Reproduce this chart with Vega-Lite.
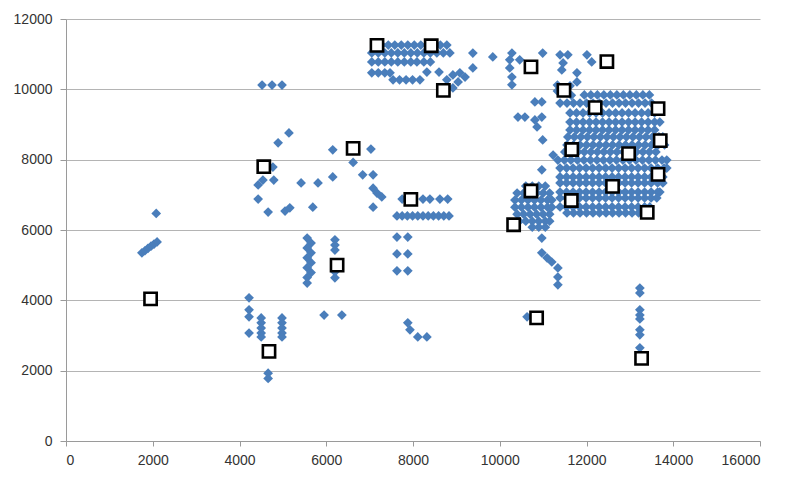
{
"$schema":"https://vega.github.io/schema/vega-lite/v6.json",
"width":694,"height":422,
"autosize":"none",
"padding":{"left":66,"top":19,"right":26,"bottom":37},
"background":"white",
"config":{"view":{"stroke":null},
"axis":{"labelFont":"Liberation Sans","labelFontSize":14,"labelColor":"#333333","domainColor":"#9a9a9a","tickColor":"#9a9a9a","gridColor":"#b4b4b4","tickSize":5,"title":null}},
"datasets":{
"d":[
{"x":1750,"y":5350},{"x":1820,"y":5410},{"x":1890,"y":5480},{"x":1960,"y":5540},{"x":2030,"y":5600},{"x":2100,"y":5660},{"x":2080,"y":6470},
{"x":4220,"y":4070},{"x":4220,"y":3730},{"x":4220,"y":3530},{"x":4220,"y":3070},
{"x":4500,"y":3500},{"x":4500,"y":3360},{"x":4500,"y":3210},{"x":4500,"y":3070},{"x":4500,"y":2960},
{"x":4980,"y":3500},{"x":4980,"y":3360},{"x":4980,"y":3210},{"x":4980,"y":3070},{"x":4980,"y":2960},
{"x":4660,"y":1930},{"x":4660,"y":1780},
{"x":5560,"y":5770},{"x":5650,"y":5630},{"x":5560,"y":5490},{"x":5650,"y":5350},{"x":5560,"y":5210},{"x":5650,"y":5070},{"x":5560,"y":4930},{"x":5650,"y":4790},{"x":5560,"y":4650},{"x":5560,"y":4490},
{"x":6200,"y":5720},{"x":6200,"y":5570},{"x":6200,"y":5430},{"x":6200,"y":4950},{"x":6200,"y":4810},{"x":6200,"y":4640},
{"x":5950,"y":3580},{"x":6360,"y":3580},
{"x":4520,"y":10120},{"x":4750,"y":10120},{"x":4980,"y":10120},
{"x":5140,"y":8760},{"x":4890,"y":8480},{"x":4770,"y":7790},{"x":4540,"y":7420},{"x":4430,"y":7280},{"x":4790,"y":7420},{"x":4430,"y":6880},{"x":4660,"y":6510},{"x":5050,"y":6540},{"x":5160,"y":6630},{"x":5690,"y":6650},{"x":5420,"y":7340},{"x":5810,"y":7340},{"x":6150,"y":7510},{"x":6150,"y":8280},{"x":7030,"y":8300},{"x":6620,"y":7920},{"x":6840,"y":7570},{"x":7080,"y":7570},{"x":7080,"y":7190},{"x":7170,"y":7050},{"x":7280,"y":6940},{"x":7080,"y":6650},
{"x":7750,"y":6880},{"x":8230,"y":6880},{"x":8390,"y":6880},{"x":8620,"y":6880},{"x":8800,"y":6880},
{"x":7630,"y":6400},{"x":7750,"y":6400},{"x":7870,"y":6400},{"x":7990,"y":6400},{"x":8110,"y":6400},{"x":8230,"y":6400},{"x":8350,"y":6400},{"x":8470,"y":6400},{"x":8590,"y":6400},{"x":8710,"y":6400},{"x":8830,"y":6400},
{"x":7630,"y":5800},{"x":7880,"y":5800},{"x":7630,"y":5320},{"x":7880,"y":5320},{"x":7630,"y":4840},{"x":7880,"y":4840},
{"x":7880,"y":3360},{"x":7930,"y":3160},{"x":8110,"y":2960},{"x":8320,"y":2960},
{"x":7280,"y":11260},{"x":7430,"y":11260},{"x":7580,"y":11260},{"x":7730,"y":11260},{"x":7880,"y":11260},{"x":8030,"y":11260},{"x":8180,"y":11260},{"x":8330,"y":11260},{"x":8480,"y":11260},{"x":8630,"y":11260},{"x":8780,"y":11260},
{"x":7050,"y":11035},{"x":7200,"y":11035},{"x":7350,"y":11035},{"x":7500,"y":11035},{"x":7650,"y":11035},{"x":7800,"y":11035},{"x":7950,"y":11035},{"x":8100,"y":11035},{"x":8250,"y":11035},{"x":8400,"y":11035},{"x":8550,"y":11035},{"x":8700,"y":11035},{"x":8850,"y":11035},
{"x":7050,"y":10780},{"x":7200,"y":10780},{"x":7350,"y":10780},{"x":7500,"y":10780},{"x":7650,"y":10780},{"x":7800,"y":10780},{"x":7950,"y":10780},{"x":8090,"y":10780},{"x":8250,"y":10780},{"x":8400,"y":10780},
{"x":7050,"y":10470},{"x":7200,"y":10470},{"x":7350,"y":10470},{"x":7470,"y":10470},
{"x":7540,"y":10270},{"x":7690,"y":10270},{"x":7840,"y":10270},{"x":7990,"y":10270},{"x":8160,"y":10270},
{"x":8320,"y":10490},{"x":8600,"y":10490},{"x":8780,"y":10270},{"x":8920,"y":10410},{"x":9080,"y":10470},{"x":9200,"y":10350},{"x":9040,"y":10210},{"x":8920,"y":10040},{"x":9380,"y":11030},{"x":9380,"y":10610},{"x":9840,"y":10920},
{"x":10280,"y":11030},{"x":10230,"y":10840},{"x":10460,"y":10840},{"x":10230,"y":10610},{"x":10280,"y":10350},{"x":10280,"y":10130},{"x":10990,"y":11030},
{"x":11390,"y":10980},{"x":11570,"y":10980},{"x":11460,"y":10750},{"x":11430,"y":10550},{"x":11780,"y":10470},{"x":11780,"y":10210},{"x":12010,"y":10980},{"x":12120,"y":10780},
{"x":11330,"y":9950},{"x":11620,"y":10100},{"x":11650,"y":9830},{"x":11390,"y":9610},{"x":11550,"y":9610},{"x":11330,"y":10120},
{"x":10810,"y":9640},{"x":10970,"y":9640},{"x":10420,"y":9210},{"x":10580,"y":9210},{"x":10810,"y":9130},{"x":10970,"y":9210},{"x":10860,"y":8930},{"x":10990,"y":8560},{"x":11230,"y":8130},{"x":10970,"y":7710},
{"x":10600,"y":7250},{"x":10750,"y":7250},{"x":10900,"y":7250},{"x":11050,"y":7250},
{"x":10400,"y":7050},{"x":10550,"y":7050},{"x":10700,"y":7050},{"x":10850,"y":7050},{"x":11000,"y":7050},{"x":11150,"y":7050},
{"x":10350,"y":6850},{"x":10500,"y":6850},{"x":10650,"y":6850},{"x":10800,"y":6850},{"x":10950,"y":6850},{"x":11100,"y":6850},{"x":11200,"y":6850},
{"x":10350,"y":6650},{"x":10500,"y":6650},{"x":10650,"y":6650},{"x":10800,"y":6650},{"x":10950,"y":6650},{"x":11100,"y":6650},{"x":11200,"y":6650},
{"x":10400,"y":6450},{"x":10550,"y":6450},{"x":10700,"y":6450},{"x":10850,"y":6450},{"x":11000,"y":6450},{"x":11150,"y":6450},
{"x":10450,"y":6250},{"x":10600,"y":6250},{"x":10750,"y":6250},{"x":10900,"y":6250},{"x":11050,"y":6250},{"x":11150,"y":6250},
{"x":10750,"y":6080},{"x":10900,"y":6080},{"x":11050,"y":6080},
{"x":10970,"y":5770},{"x":10970,"y":5350},{"x":11090,"y":5210},{"x":11200,"y":5090},{"x":11340,"y":4920},{"x":11340,"y":4660},{"x":11340,"y":4440},{"x":10630,"y":3530},
{"x":13230,"y":4350},{"x":13230,"y":4210},{"x":13230,"y":3730},{"x":13230,"y":3580},{"x":13230,"y":3470},{"x":13230,"y":3160},{"x":13230,"y":3020},{"x":13230,"y":2650},
{"x":11950,"y":9840},{"x":12100,"y":9840},{"x":12250,"y":9840},{"x":12400,"y":9840},{"x":12550,"y":9840},{"x":12700,"y":9840},{"x":12850,"y":9840},{"x":13000,"y":9840},{"x":13150,"y":9840},{"x":13300,"y":9840},{"x":13450,"y":9840},
{"x":11700,"y":9610},{"x":11850,"y":9610},{"x":12000,"y":9610},{"x":12150,"y":9610},{"x":12300,"y":9610},{"x":12450,"y":9610},{"x":12600,"y":9610},{"x":12750,"y":9610},{"x":12900,"y":9610},{"x":13050,"y":9610},{"x":13200,"y":9610},{"x":13350,"y":9610},{"x":13500,"y":9610},
{"x":11620,"y":9330},{"x":11770,"y":9330},{"x":11920,"y":9330},{"x":12070,"y":9330},{"x":12220,"y":9330},{"x":12370,"y":9330},{"x":12520,"y":9330},{"x":12670,"y":9330},{"x":12820,"y":9330},{"x":12970,"y":9330},{"x":13120,"y":9330},{"x":13270,"y":9330},{"x":13420,"y":9330},{"x":13570,"y":9330},
{"x":11620,"y":9070},{"x":11770,"y":9070},{"x":11920,"y":9070},{"x":12070,"y":9070},{"x":12220,"y":9070},{"x":12370,"y":9070},{"x":12520,"y":9070},{"x":12670,"y":9070},{"x":12820,"y":9070},{"x":12970,"y":9070},{"x":13120,"y":9070},{"x":13270,"y":9070},{"x":13420,"y":9070},{"x":13570,"y":9070},{"x":13690,"y":9070},
{"x":11620,"y":8845},{"x":11770,"y":8845},{"x":11920,"y":8845},{"x":12070,"y":8845},{"x":12220,"y":8845},{"x":12370,"y":8845},{"x":12520,"y":8845},{"x":12670,"y":8845},{"x":12820,"y":8845},{"x":12970,"y":8845},{"x":13120,"y":8845},{"x":13270,"y":8845},{"x":13420,"y":8845},{"x":13570,"y":8845},
{"x":11570,"y":8645},{"x":11720,"y":8645},{"x":11870,"y":8645},{"x":12020,"y":8645},{"x":12170,"y":8645},{"x":12320,"y":8645},{"x":12470,"y":8645},{"x":12620,"y":8645},{"x":12770,"y":8645},{"x":12920,"y":8645},{"x":13070,"y":8645},{"x":13220,"y":8645},{"x":13370,"y":8645},{"x":13520,"y":8645},{"x":13670,"y":8645},{"x":13760,"y":8645},
{"x":11550,"y":8420},{"x":11700,"y":8420},{"x":11850,"y":8420},{"x":12000,"y":8420},{"x":12150,"y":8420},{"x":12300,"y":8420},{"x":12450,"y":8420},{"x":12600,"y":8420},{"x":12750,"y":8420},{"x":12900,"y":8420},{"x":13050,"y":8420},{"x":13200,"y":8420},{"x":13350,"y":8420},{"x":13500,"y":8420},{"x":13650,"y":8420},{"x":13800,"y":8420},
{"x":11500,"y":8220},{"x":11650,"y":8220},{"x":11800,"y":8220},{"x":11950,"y":8220},{"x":12100,"y":8220},{"x":12250,"y":8220},{"x":12400,"y":8220},{"x":12550,"y":8220},{"x":12700,"y":8220},{"x":12850,"y":8220},{"x":13000,"y":8220},{"x":13150,"y":8220},{"x":13300,"y":8220},{"x":13450,"y":8220},{"x":13600,"y":8220},
{"x":11340,"y":7990},{"x":11490,"y":7990},{"x":11640,"y":7990},{"x":11790,"y":7990},{"x":11940,"y":7990},{"x":12090,"y":7990},{"x":12240,"y":7990},{"x":12390,"y":7990},{"x":12540,"y":7990},{"x":12690,"y":7990},{"x":12840,"y":7990},{"x":12990,"y":7990},{"x":13140,"y":7990},{"x":13290,"y":7990},{"x":13440,"y":7990},{"x":13590,"y":7990},{"x":13740,"y":7990},{"x":13850,"y":7990},
{"x":11390,"y":7760},{"x":11540,"y":7760},{"x":11690,"y":7760},{"x":11840,"y":7760},{"x":11990,"y":7760},{"x":12140,"y":7760},{"x":12290,"y":7760},{"x":12440,"y":7760},{"x":12590,"y":7760},{"x":12740,"y":7760},{"x":12890,"y":7760},{"x":13040,"y":7760},{"x":13190,"y":7760},{"x":13340,"y":7760},{"x":13490,"y":7760},{"x":13640,"y":7760},{"x":13790,"y":7760},{"x":13850,"y":7760},
{"x":11390,"y":7510},{"x":11540,"y":7510},{"x":11690,"y":7510},{"x":11840,"y":7510},{"x":11990,"y":7510},{"x":12140,"y":7510},{"x":12290,"y":7510},{"x":12440,"y":7510},{"x":12590,"y":7510},{"x":12740,"y":7510},{"x":12890,"y":7510},{"x":13040,"y":7510},{"x":13190,"y":7510},{"x":13340,"y":7510},{"x":13490,"y":7510},{"x":13640,"y":7510},{"x":13760,"y":7510},
{"x":11390,"y":7340},{"x":11540,"y":7340},{"x":11690,"y":7340},{"x":11840,"y":7340},{"x":11990,"y":7340},{"x":12140,"y":7340},{"x":12290,"y":7340},{"x":12440,"y":7340},{"x":12590,"y":7340},{"x":12740,"y":7340},{"x":12890,"y":7340},{"x":13040,"y":7340},{"x":13190,"y":7340},{"x":13340,"y":7340},{"x":13490,"y":7340},{"x":13640,"y":7340},{"x":13760,"y":7340},
{"x":11390,"y":7080},{"x":11540,"y":7080},{"x":11690,"y":7080},{"x":11840,"y":7080},{"x":11990,"y":7080},{"x":12140,"y":7080},{"x":12290,"y":7080},{"x":12440,"y":7080},{"x":12590,"y":7080},{"x":12740,"y":7080},{"x":12890,"y":7080},{"x":13040,"y":7080},{"x":13190,"y":7080},{"x":13340,"y":7080},{"x":13490,"y":7080},{"x":13640,"y":7080},{"x":13690,"y":7080},
{"x":11390,"y":6910},{"x":11540,"y":6910},{"x":11690,"y":6910},{"x":11840,"y":6910},{"x":11990,"y":6910},{"x":12140,"y":6910},{"x":12290,"y":6910},{"x":12440,"y":6910},{"x":12590,"y":6910},{"x":12740,"y":6910},{"x":12890,"y":6910},{"x":13040,"y":6910},{"x":13190,"y":6910},{"x":13340,"y":6910},{"x":13490,"y":6910},{"x":13620,"y":6910},
{"x":11390,"y":6655},{"x":11540,"y":6655},{"x":11690,"y":6655},{"x":11840,"y":6655},{"x":11990,"y":6655},{"x":12140,"y":6655},{"x":12290,"y":6655},{"x":12440,"y":6655},{"x":12590,"y":6655},{"x":12740,"y":6655},{"x":12890,"y":6655},{"x":13040,"y":6655},{"x":13190,"y":6655},{"x":13340,"y":6655},{"x":13460,"y":6655},
{"x":11550,"y":6485},{"x":11700,"y":6485},{"x":11850,"y":6485},{"x":12000,"y":6485},{"x":12150,"y":6485},{"x":12300,"y":6485},{"x":12450,"y":6485},{"x":12600,"y":6485},{"x":12750,"y":6485},{"x":12900,"y":6485},{"x":13050,"y":6485},{"x":13200,"y":6485},{"x":13390,"y":6485}
],
"s":[
{"x":1950,"y":4040},{"x":4560,"y":7800},{"x":4680,"y":2550},{"x":6250,"y":5000},{"x":6620,"y":8320},{"x":7950,"y":6870},{"x":7170,"y":11250},{"x":8420,"y":11240},{"x":8700,"y":9970},{"x":10720,"y":10640},{"x":10320,"y":6150},{"x":10720,"y":7110},{"x":10850,"y":3500},{"x":11480,"y":9970},{"x":12470,"y":10790},{"x":12200,"y":9480},{"x":11660,"y":8290},{"x":12970,"y":8170},{"x":13650,"y":9450},{"x":13700,"y":8540},{"x":13650,"y":7580},{"x":12600,"y":7240},{"x":11650,"y":6840},{"x":13400,"y":6500},{"x":13270,"y":2350}
]},
"layer":[
{"data":{"name":"d"},
"mark":{"type":"point","shape":"diamond","filled":true,"color":"#4A7EBB","opacity":1,"size":95},
"encoding":{
"x":{"field":"x","type":"quantitative","scale":{"domain":[0,16000],"nice":false},"axis":{"values":[0,2000,4000,6000,8000,10000,12000,14000,16000],"grid":false,"labelPadding":7,"format":"d"}},
"y":{"field":"y","type":"quantitative","scale":{"domain":[0,12000],"nice":false},"axis":{"values":[0,2000,4000,6000,8000,10000,12000],"grid":true,"labelPadding":8,"tickSize":6,"format":"d"}}}},
{"data":{"name":"s"},
"mark":{"type":"point","shape":"square","filled":true,"fill":"white","stroke":"black","strokeWidth":2.6,"opacity":1,"size":150},
"encoding":{
"x":{"field":"x","type":"quantitative"},
"y":{"field":"y","type":"quantitative"}}}
]
}
